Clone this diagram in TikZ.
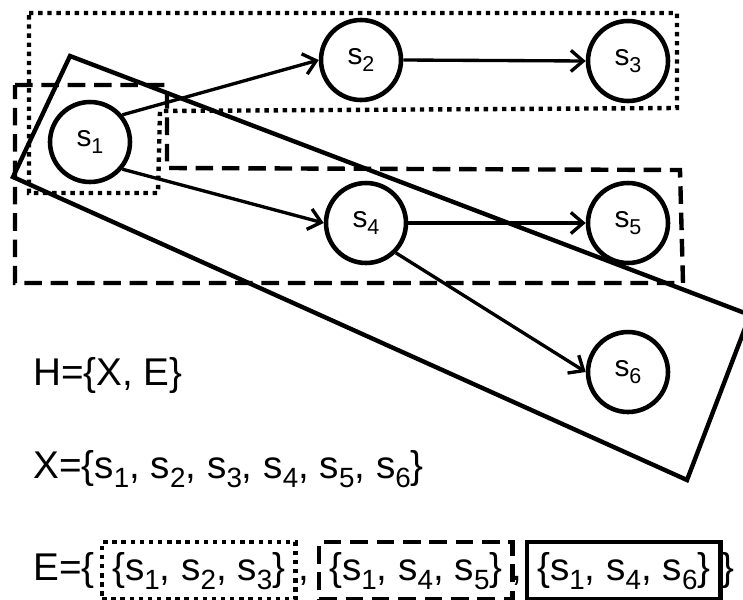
\documentclass[tikz,border=0pt]{standalone}
\usepackage{fontspec}
\usepackage{graphicx}
\setmainfont{Liberation Sans}
\usetikzlibrary{arrows.meta,positioning}

\newcommand{\sv}[1]{s\raisebox{-0.24em}{\scalebox{0.72}{#1}}}

\tikzset{
  state/.style={circle, draw, line width=2.6pt, minimum size=1.6cm, inner sep=0pt, font=\fontsize{17}{20}\selectfont},
  link/.style={->, line width=1.9pt},
  dotbox/.style={line width=2.5pt, dash pattern=on 2.5pt off 2.7pt},
  dashbox/.style={line width=2.5pt, dash pattern=on 10pt off 5pt},
  solidbox/.style={line width=2.5pt},
  big/.style={font=\fontsize{22}{26}\selectfont},
  setbox/.style={big, draw, anchor=base west, inner xsep=0.2cm, inner ysep=0.2cm},
}

\begin{document}
\begin{tikzpicture}[x=0.02cm, y=-0.02cm, >={Straight Barb[length=7pt,width=12pt]}]
    \useasboundingbox (0,0) rectangle (743,599);
    \clip (0,0) rectangle (743,599);

    % vertices
    \node[state] (s1) at (90,142) {\sv{1}};
    \node[state] (s2) at (361,60) {\sv{2}};
    \node[state] (s3) at (628,61) {\sv{3}};
    \node[state] (s4) at (366,223) {\sv{4}};
    \node[state] (s5) at (628,223) {\sv{5}};
    \node[state] (s6) at (628,372) {\sv{6}};

    % edges
    \draw[link] (s1.40) -- (s2.west);
    \draw[link] (s2.east) -- (s3.west);
    \draw[link] (s1.-40) -- (s4.west);
    \draw[link] (s4.east) -- (s5.west);
    \draw[link] (s4.-45) -- (s6.west);

    % hyperedges
    \draw[dotbox] (29,13) -- (677,13) -- (677,108) -- (160,111) -- (158,193) -- (29,193) -- cycle;
    \draw[dashbox] (15,85) -- (167,85) -- (167,168) -- (680,170) -- (683,283) -- (15,283) -- cycle;
    \draw[solidbox] (70,56) -- (750,315) -- (687,480) -- (13,177) -- cycle;

    % definitions
    \node[big, anchor=base west, inner sep=0pt] (hdef) at (33,385) {H=\{X, E\}};
    \node[big, anchor=base west, inner sep=0pt] (xdef) at (33,478) {X=\{\sv{1}, \sv{2}, \sv{3}, \sv{4}, \sv{5}, \sv{6}\}};
    \node[big, anchor=base west, inner sep=0pt] (edef) at (33,580) {E=\{};
    \node[setbox, dotbox] (e1) at (100,580) {\{\sv{1}, \sv{2}, \sv{3}\}};
    \node[big, anchor=base west, inner sep=0pt] (c1) at (298,580) {,};
    \node[setbox, dashbox] (e2) at (317,580) {\{\sv{1}, \sv{4}, \sv{5}\}};
    \node[big, anchor=base west, inner sep=0pt] (c2) at (511,580) {,};
    \node[setbox, solidbox] (e3) at (525,580) {\{\sv{1}, \sv{4}, \sv{6}\}};
    \node[big, anchor=base west, inner sep=0pt] (eend) at (721,580) {\}};
\end{tikzpicture}
\end{document}
